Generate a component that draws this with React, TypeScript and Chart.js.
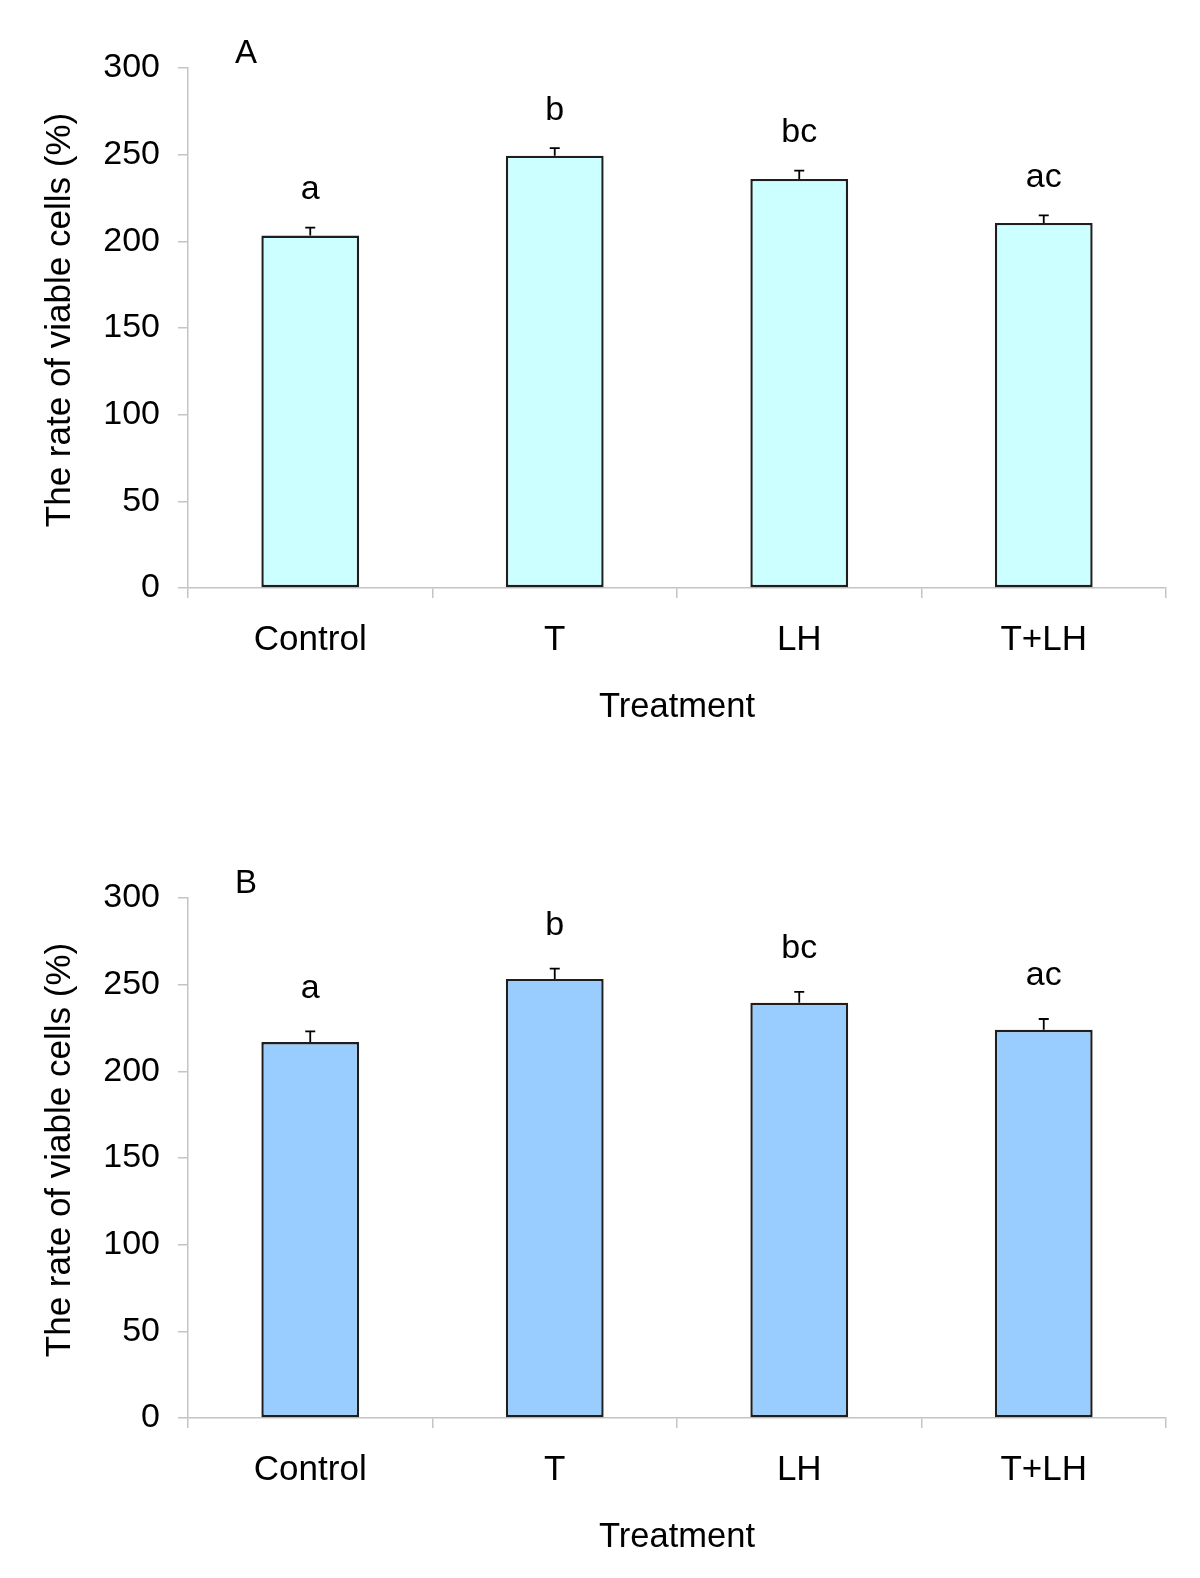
import React, { useEffect, useRef } from 'react';
import { Chart, registerables } from 'chart.js';

Chart.register(...registerables);

const categories = ['Control', 'T', 'LH', 'T+LH'];

const valuesA = [203.3, 249.4, 236.0, 210.6];
const errorsA = [4.6, 4.4, 4.8, 4.4];
const lettersA = ['a', 'b', 'bc', 'ac'];

const valuesB = [216.9, 253.3, 239.6, 224.0];
const errorsB = [6.1, 5.9, 6.2, 6.2];
const lettersB = ['a', 'b', 'bc', 'ac'];

const yMin = 0;
const yMax = 300;
const yStep = 50;

const xTitle = 'Treatment';
const yTitle = 'The rate of viable cells (%)';

const FONT = '"Liberation Sans", Arial, Helvetica, sans-serif';

const annotPlugin = {
  id: 'annot',
  afterDatasetsDraw(chart: any, _args: any, opts: any) {
    const { ctx, chartArea } = chart;
    const meta = chart.getDatasetMeta(0);
    const yScale = chart.scales.y;
    ctx.save();
    meta.data.forEach((bar: any, i: number) => {
      const v = opts.values[i];
      const e = opts.errors[i];
      const yTop = yScale.getPixelForValue(v + e);
      const yBar = yScale.getPixelForValue(v);
      ctx.strokeStyle = '#000';
      ctx.lineWidth = 1.8;
      ctx.beginPath();
      ctx.moveTo(bar.x, yBar);
      ctx.lineTo(bar.x, yTop);
      ctx.moveTo(bar.x - 5, yTop);
      ctx.lineTo(bar.x + 5, yTop);
      ctx.stroke();
      ctx.fillStyle = '#000';
      ctx.font = `34px ${FONT}`;
      ctx.textAlign = 'center';
      ctx.textBaseline = 'alphabetic';
      ctx.fillText(opts.letters[i], bar.x, yTop - opts.letterGap);
    });
    ctx.fillStyle = '#000';
    ctx.textAlign = 'center';
    ctx.textBaseline = 'alphabetic';
    ctx.font = `33px ${FONT}`;
    ctx.fillText(opts.panel, chartArea.left + 58, chartArea.top - 5.5);
    ctx.font = `34.5px ${FONT}`;
    ctx.fillText(xTitle, (chartArea.left + chartArea.right) / 2, chartArea.bottom + 129);
    ctx.save();
    ctx.translate(60, (chartArea.top + chartArea.bottom) / 2 - 8);
    ctx.rotate(-Math.PI / 2);
    ctx.textBaseline = 'middle';
    ctx.font = `35px ${FONT}`;
    ctx.fillText(yTitle, 0, 0);
    ctx.restore();
    ctx.restore();
  },
};

type PanelProps = {
  values: number[];
  errors: number[];
  letters: string[];
  panel: string;
  color: string;
  height: number;
  top: number;
  letterGap: number;
};

function Panel({ values, errors, letters, panel, color, height, top, letterGap }: PanelProps) {
  const ref = useRef<HTMLCanvasElement | null>(null);
  useEffect(() => {
    if (!ref.current) return;
    const axisGray = '#c4c4c4';
    const chart = new Chart(ref.current, {
      type: 'bar',
      data: {
        labels: categories,
        datasets: [
          {
            data: values,
            backgroundColor: color,
            borderColor: '#1e1e1e',
            borderWidth: 2.4,
            borderSkipped: false,
            barPercentage: 0.4,
            categoryPercentage: 1,
          },
        ],
      },
      options: {
        responsive: false,
        animation: false,
        devicePixelRatio: 1,
        layout: { padding: { left: 0, top: 68, right: 34, bottom: 0 } },
        plugins: {
          legend: { display: false },
          tooltip: { enabled: false },
          annot: { values, errors, letters, panel, letterGap },
        } as any,
        scales: {
          x: {
            afterFit: (s: any) => {
              s.height = height - 68 - 520;
            },
            grid: {
              drawOnChartArea: false,
              drawTicks: true,
              tickLength: 10,
              color: axisGray,
              lineWidth: 1.5,
              offset: true,
            },
            border: { color: axisGray, width: 1.5 },
            ticks: {
              color: '#000',
              font: { family: FONT, size: 35 },
              padding: 21,
              maxRotation: 0,
              autoSkip: false,
            },
          },
          y: {
            min: yMin,
            max: yMax,
            afterFit: (s: any) => {
              s.width = 188;
            },
            grid: {
              drawOnChartArea: false,
              drawTicks: true,
              tickLength: 10,
              color: axisGray,
              lineWidth: 1.5,
            },
            border: { color: axisGray, width: 1.5 },
            ticks: {
              stepSize: yStep,
              color: '#000',
              font: { family: FONT, size: 34 },
              padding: 18,
            },
          },
        },
      },
      plugins: [annotPlugin as any],
    });
    return () => chart.destroy();
  }, []);
  return (
    <canvas
      ref={ref}
      width={1200}
      height={height}
      style={{ position: 'absolute', left: 0, top, width: 1200, height }}
    />
  );
}

export default function App() {
  return (
    <div style={{ position: 'absolute', left: 0, top: 0, width: 1200, height: 1578, background: '#fff' }}>
      <Panel values={valuesA} errors={errorsA} letters={lettersA} panel="A" color="#ccffff" height={830} top={0} letterGap={28.5} />
      <Panel values={valuesB} errors={errorsB} letters={lettersB} panel="B" color="#99ccff" height={748} top={830} letterGap={33.5} />
    </div>
  );
}
